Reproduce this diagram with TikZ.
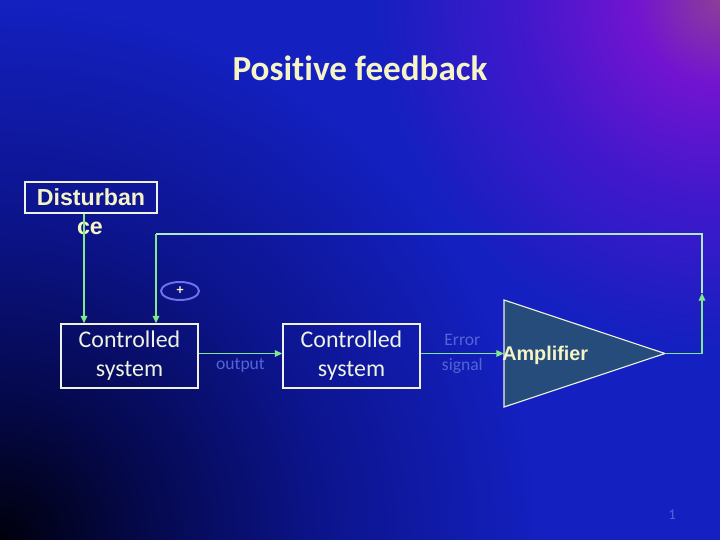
\documentclass[tikz,border=0pt]{standalone}
\usepackage{fontspec}
\setmainfont{Carlito}[Ligatures=NoCommon]
\newfontfamily\pfarial{Liberation Sans}
\usetikzlibrary{arrows.meta,positioning,calc,shapes.geometric}
\definecolor{PfBlue}{RGB}{20,32,192}
\definecolor{PfNight}{RGB}{0,0,12}
\definecolor{PfDeep}{RGB}{5,9,78}
\definecolor{PfDusk}{RGB}{12,20,140}
\definecolor{PfMagenta}{RGB}{140,62,152}
\definecolor{PfViolet}{RGB}{114,20,208}
\definecolor{PfIndigo}{RGB}{66,24,204}
\definecolor{PfCream}{RGB}{244,244,198}
\definecolor{PfWhite}{RGB}{238,242,226}
\definecolor{PfGreen}{RGB}{130,232,140}
\definecolor{PfPale}{RGB}{176,232,204}
\definecolor{PfSlate}{RGB}{38,76,124}
\definecolor{PfMuted}{RGB}{84,100,214}
\definecolor{PfLilac}{RGB}{112,112,236}
% the central 50bp of a shading is fitted to the path
\pgfdeclareradialshading{pfdarkcorner}{\pgfpoint{0bp}{0bp}}{color(0bp)=(PfNight); color(7bp)=(PfDeep); color(15bp)=(PfDusk); color(25bp)=(PfBlue); color(50bp)=(PfBlue)}
\pgfdeclareradialshading{pfglowcorner}{\pgfpoint{0bp}{0bp}}{color(0bp)=(PfMagenta); color(6bp)=(PfViolet); color(14bp)=(PfIndigo); color(25bp)=(PfBlue); color(50bp)=(PfBlue)}
\tikzset{
  pf/title/.style={
    text=PfCream,
    font=\bfseries\fontsize{25}{30}\selectfont
  },
  pf/box/.style={
    draw=PfWhite,
    line width=0.9pt,
    align=center,
    text=PfWhite,
    inner sep=0pt,
    minimum width=3.425cm,
    minimum height=1.6cm,
    font=\fontsize{17}{20.5}\selectfont
  },
  pf/disturb/.style={
    draw=PfWhite,
    line width=0.9pt,
    text=PfCream,
    inner sep=0pt,
    minimum width=3.3cm,
    minimum height=0.775cm,
    font=\pfarial\bfseries\fontsize{16.5}{19}\selectfont
  },
  pf/amp/.style={draw=PfWhite, line width=0.8pt, fill=PfSlate},
  pf/amptext/.style={text=PfCream, inner sep=0pt, font=\pfarial\bfseries\fontsize{14.1}{17}\selectfont},
  pf/sign/.style={
    ellipse,
    draw=PfLilac,
    line width=1.4pt,
    inner sep=0pt,
    minimum width=0.95cm,
    minimum height=0.45cm,
    text=PfCream,
    font=\bfseries\fontsize{10}{12}\selectfont
  },
  pf/tag/.style={text=PfMuted, align=center, inner sep=0pt, font=\fontsize{12.5}{17.8}\selectfont},
  pf/arrow/.style={-{Triangle[length=1.9mm,width=1.6mm]}, line width=1.3pt, draw=PfGreen},
  pf/feedline/.style={line width=0.9pt, draw=PfPale}
}

\begin{document}
\begin{tikzpicture}[x=1cm,y=1cm]
  % slide background
  \useasboundingbox (0,0) rectangle (18,13.5);
  \fill[PfBlue] (0,0) rectangle (18,13.5);
  \begin{scope}
    \clip (0,0) rectangle (18,13.5);
    \shade[shading=pfdarkcorner] (0,0) circle (13.5);
    \shade[shading=pfglowcorner] (18,13.5) circle (8.7);
  \end{scope}

  \node[pf/title] (title) at (9,11.8) {Positive feedback};

  % blocks
  \node[pf/disturb] (dist) at (2.275,8.5625) {Disturban};
  \node[text=PfCream, inner sep=0pt, font=\pfarial\bfseries\fontsize{16.5}{19}\selectfont] (distce) at (2.25,7.8) {ce};
  \node[pf/box] (cs1) at (3.2375,4.6) {Controlled\\system};
  \node[pf/box] (cs2) at (8.7875,4.6) {Controlled\\system};
  \path (12.6,6.0) coordinate (amptop) (12.6,3.325) coordinate (ampbot) (16.625,4.6625) coordinate (amptip);
  \coordinate (ampin) at ($(amptop)!0.5!(ampbot)$);
  \filldraw[pf/amp] (amptop) -- (amptip) -- (ampbot) -- cycle;
  \node[pf/sign] (plus) at (4.5,6.225) {+};

  % feedback corners
  \coordinate (fbrise) at (17.55,6.175);
  \coordinate (fbtop) at (3.9,7.65);

  % connectors
  \draw[pf/arrow] ([xshift=-1.75mm]dist.south) -- ([xshift=-1.75mm]dist.south |- cs1.north);
  \draw[pf/arrow] (cs1.east |- ampin) -- node[pf/tag, below=3pt] (outlbl) {output} (cs2.west |- ampin);
  \draw[pf/arrow] (cs2.east |- ampin) -- node[pf/tag] (errlbl) {Error\\signal} (ampin);
  \draw[pf/arrow] (amptip) -| (fbrise);
  \draw[pf/feedline] (fbrise) |- (fbtop);
  \draw[pf/arrow] (fbtop) -- (fbtop |- cs1.north);

  \node[pf/amptext, anchor=west] (amplbl) at ([xshift=-0.5mm,yshift=-0.5mm]ampin) {Amplifier};

  \node[text=PfMuted, font=\fontsize{10.5}{12}\selectfont] (pageno) at (16.8,0.625) {1};
\end{tikzpicture}
\end{document}
